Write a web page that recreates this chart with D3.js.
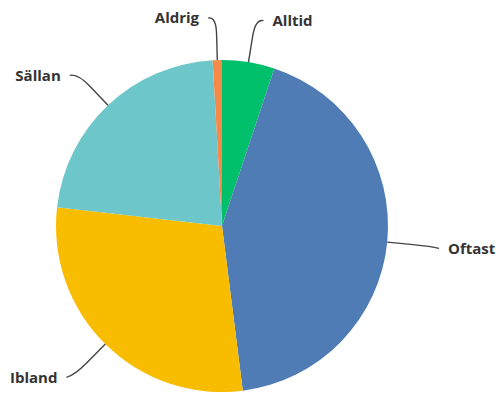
<!DOCTYPE html>
<html>
<head>
<meta charset="utf-8">
<script src="https://cdn.jsdelivr.net/npm/d3@7"></script>
<style>
  body { margin: 0; background: #fff; }
  .slice-label { font-family: "Open Sans", "Liberation Sans", sans-serif; font-weight: 700; font-size: 15px; fill: #333; }
  .leader { fill: none; stroke: #444; stroke-width: 1.4; }
</style>
</head>
<body>
<div id="chart"></div>
<script>
// answers, clockwise from 12 o'clock
const categories = ["Alltid", "Oftast", "Ibland", "Sällan", "Aldrig"];
const shares = [5.1, 42.9, 28.8, 22.3, 0.9];
const colors = ["#00c06b", "#4f7cb4", "#f8bc00", "#6cc6ca", "#f5894a"];

const width = 498, height = 394;
const cx = 222, cy = 226, radius = 166;

const svg = d3.select("#chart").append("svg").attr("width", width).attr("height", height);
const g = svg.append("g").attr("transform", "translate(" + cx + "," + cy + ")");

const data = categories.map((c, i) => ({ name: c, value: shares[i], color: colors[i] }));
const pie = d3.pie().value(d => d.value).sort(null);
const arc = d3.arc().innerRadius(0).outerRadius(radius);
const arcs = pie(data);

g.selectAll("path.slice").data(arcs).join("path")
    .attr("class", "slice")
    .attr("d", arc)
    .attr("fill", d => d.data.color);

// polar helper, angle measured clockwise from top
function polar(a, r) { return [Math.sin(a) * r, -Math.cos(a) * r]; }

let labels = g.selectAll("g.lab").data(arcs).join("g").attr("class", "lab");
labels.each(function(d) {
    let mid = (d.startAngle + d.endAngle) / 2;
    let left = Math.sin(mid) < 0;
    let dir = left ? -1 : 1;
    let p0 = polar(mid, radius);
    let p1 = polar(mid, radius + 26);
    let corner = polar(mid, radius + 44);
    let end = [corner[0] + dir * 8, corner[1] + 2];
    d3.select(this).append("path").attr("class", "leader")
        .attr("d", "M" + p0 + "L" + p1 + "Q" + corner + " " + end);
    d3.select(this).append("text").attr("class", "slice-label")
        .attr("x", end[0] + dir * 9)
        .attr("y", end[1])
        .attr("dy", "0.35em")
        .attr("text-anchor", left ? "end" : "start")
        .text(d.data.name);
});
</script>
</body>
</html>
